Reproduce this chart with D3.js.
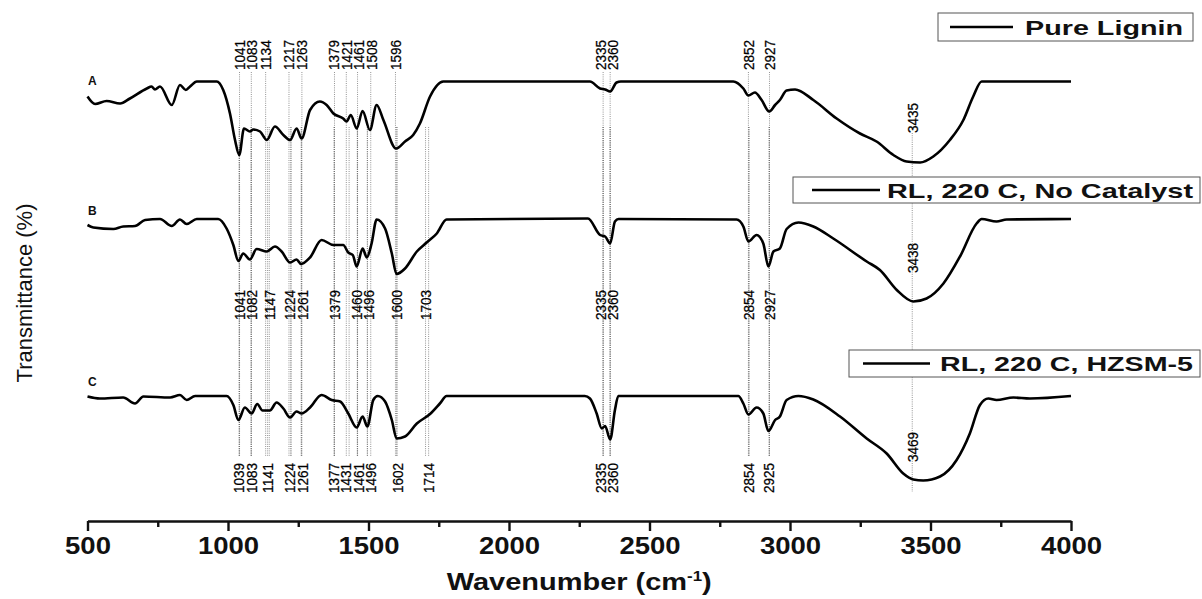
<!DOCTYPE html>
<html>
<head>
<meta charset="utf-8">
<script src="https://cdn.jsdelivr.net/npm/d3@7/dist/d3.min.js"></script>
<style>
  body { margin: 0; background: #fff; }
  svg { display: block; font-family: "Liberation Sans", Arial, sans-serif; }
</style>
</head>
<body>
<div id="chart"></div>
<script>
// Data
// ================================
var seriesNames = ["Pure Lignin", "RL, 220 C, No Catalyst", "RL, 220 C, HZSM-5"];
var seriesLetters = ["A", "B", "C"];

// [wavenumber, transmittance (stacked, arb. %)]
var specA = [[500,84.9],[527,83.4],[568,84.0],[616,83.5],[651,84.5],[711,86.5],[728,86.9],[740,86.3],[758,86.9],
  [800,83.2],[829,87.2],[850,86.2],[865,86.9],[889,87.9],[960,87.9],[983,86.2],[1007,81.5],[1025,76.2],[1040,73.2],
  [1057,78.5],[1078,77.9],[1090,78.3],[1114,77.9],[1138,76.2],[1167,78.9],[1197,77.2],[1221,76.2],[1244,78.5],
  [1262,76.5],[1292,82.2],[1327,83.9],[1351,83.2],[1375,81.5],[1410,80.5],[1422,79.9],[1437,81.2],[1458,78.5],
  [1479,82.0],[1505,78.2],[1529,83.2],[1553,80.2],[1598,74.5],[1630,75.9],[1659,77.2],[1683,79.5],[1719,84.9],
  [1766,87.9],[2288,87.9],[2324,86.5],[2342,86.3],[2360,85.9],[2383,87.7],[2398,87.9],[2798,87.9],[2834,86.5],
  [2852,85.1],[2875,85.7],[2899,84.2],[2926,81.9],[2947,83.2],[2964,84.2],[2988,86.1],[3018,86.3],[3083,84.2],
  [3166,80.5],[3249,77.5],[3308,75.9],[3368,73.2],[3415,71.9],[3463,71.7],[3510,72.9],[3569,76.2],[3617,80.2],
  [3652,84.9],[3682,87.9],[4000,87.9]];

var specB = [[500,59.2],[521,58.7],[592,58.4],[627,58.9],[669,59.0],[705,60.2],[758,60.4],[800,59.0],[829,60.3],
  [853,59.4],[889,60.4],[965,60.4],[995,58.5],[1019,55.2],[1037,52.0],[1054,53.5],[1078,52.3],[1102,54.4],
  [1138,53.9],[1167,54.9],[1191,53.9],[1221,51.7],[1244,52.3],[1260,51.4],[1292,52.7],[1333,56.2],[1375,55.2],
  [1410,55.2],[1428,53.7],[1444,53.2],[1458,50.9],[1479,54.5],[1494,52.7],[1511,55.5],[1529,60.3],[1559,58.5],
  [1583,53.5],[1600,49.4],[1630,50.5],[1672,53.9],[1707,55.7],[1743,57.5],[1778,60.3],[2281,60.5],[2324,57.2],
  [2342,56.9],[2360,55.5],[2377,59.9],[2390,60.4],[2810,60.3],[2834,58.9],[2852,55.9],[2881,57.2],[2905,55.5],
  [2923,50.9],[2941,53.9],[2964,54.5],[2988,58.4],[3030,59.7],[3083,58.9],[3154,56.5],[3273,51.9],[3320,50.2],
  [3380,46.2],[3439,43.9],[3486,44.5],[3546,47.5],[3605,52.9],[3664,59.5],[3682,60.4],[3735,59.9],[3771,60.3],
  [4000,60.4]];

var specC = [[500,24.9],[544,24.5],[627,24.7],[669,23.5],[699,24.9],[794,24.7],[829,25.2],[853,24.2],[883,25.0],
  [995,25.0],[1019,23.2],[1037,20.2],[1060,22.7],[1084,21.5],[1104,23.4],[1123,22.1],[1149,22.1],[1173,23.7],
  [1197,22.5],[1221,20.7],[1244,21.9],[1262,21.5],[1292,22.7],[1333,25.2],[1369,24.2],[1399,23.9],[1428,21.5],
  [1458,18.7],[1479,20.9],[1496,18.9],[1517,24.2],[1533,25.0],[1559,23.9],[1583,20.2],[1600,16.5],[1630,16.9],
  [1672,19.5],[1719,21.4],[1754,23.5],[1778,25.0],[2270,25.0],[2288,24.5],[2312,21.5],[2330,18.5],[2342,19.0],
  [2360,16.3],[2377,22.2],[2389,25.0],[2816,25.0],[2834,23.5],[2852,21.3],[2881,22.7],[2905,21.5],[2923,18.0],
  [2947,20.2],[2964,20.9],[2988,24.2],[3030,25.0],[3083,24.3],[3178,20.9],[3273,16.5],[3344,13.5],[3403,9.5],
  [3439,8.3],[3474,8.1],[3534,8.9],[3593,12.2],[3640,17.5],[3676,23.2],[3706,24.5],[3735,24.2],[3795,24.7],
  [3854,24.5],[4000,25.0]];

// assigned band positions
var peaksA = [1041, 1083, 1134, 1217, 1263, 1379, 1421, 1461, 1508, 1596, 2335, 2360, 2852, 2927];
var peaksB = [1041, 1082, 1147, 1224, 1261, 1379, 1460, 1496, 1600, 1703, 2335, 2360, 2854, 2927];
var peaksC = [1039, 1083, 1141, 1224, 1261, 1377, 1431, 1461, 1496, 1602, 1714, 2335, 2360, 2854, 2925];
var ohPeaks = [3435, 3438, 3469];

var xTicks = [500, 1000, 1500, 2000, 2500, 3000, 3500, 4000];
var xMinorTicks = [750, 1250, 1750, 2250, 2750, 3250, 3750];

// Set up chart
// ================================
var svgWidth = 1202;
var svgHeight = 599;

var margin = { top: 21, right: 131, bottom: 78, left: 87.5 };
var width = svgWidth - margin.left - margin.right;
var height = svgHeight - margin.top - margin.bottom;

var svg = d3.select("#chart")
  .append("svg")
  .attr("width", svgWidth)
  .attr("height", svgHeight);

var chartGroup = svg.append("g")
  .attr("transform", `translate(${margin.left}, ${margin.top})`);

var xScale = d3.scaleLinear().domain([500, 4000]).range([0, width]);
var yScale = d3.scaleLinear().domain([0, 100]).range([height, 0]);

// layout of the three stacked spectra (pixel positions in chart coords)
var rows = [
  { spec: specA, peaks: peaksA, labelBase: 49, lineTop: 51, ohBase: 112,
    letterY: 64, legend: { x: 850.5, y: -8, w: 255, h: 28, l1: 862.5, l2: 925.5, tx: 937.5, len: 158 } },
  { spec: specB, peaks: peaksB, labelBase: 299, lineTop: 106, ohBase: 252,
    letterY: 194, legend: { x: 705.5, y: 156, w: 407, h: 26, l1: 724.5, l2: 792.5, tx: 799.5, len: 306 } },
  { spec: specC, peaks: peaksC, labelBase: 472, lineTop: 106, ohBase: 441,
    letterY: 365, legend: { x: 761.5, y: 329, w: 351, h: 27, l1: 775.5, l2: 842.5, tx: 852.5, len: 253 } }
];
var lineBottom = 435;
var ohTop = 112;
var ohBottom = 471;

var labelFont = "'Liberation Sans Narrow', 'Arial Narrow', 'Liberation Sans', sans-serif";

// push crowded labels apart so the rotated numbers don't overlap
function spread(xs, gap) {
  var out = xs.slice();
  for (var it = 0; it < 60; it++) {
    for (var i = 1; i < out.length; i++) {
      var d = out[i] - out[i - 1];
      if (d < gap) {
        var s = (gap - d) / 2;
        out[i - 1] -= s;
        out[i] += s;
      }
    }
  }
  return out;
}

// x axis
// ================================
var bottomAxis = d3.axisBottom(xScale)
  .tickValues(xTicks)
  .tickFormat(d3.format("d"))
  .tickSize(10)
  .tickSizeOuter(0)
  .tickPadding(6);

var xAxisG = chartGroup.append("g")
  .attr("transform", `translate(0, ${height})`)
  .call(bottomAxis);

xAxisG.select(".domain").attr("stroke", "#111").attr("stroke-width", 2.6);
xAxisG.selectAll(".tick line").attr("stroke", "#111").attr("stroke-width", 2.4);
xAxisG.selectAll(".tick text")
  .attr("fill", "#111")
  .style("font-size", "24px")
  .style("font-weight", "bold")
  .attr("textLength", d => String(d).length * 15.3)
  .attr("lengthAdjust", "spacingAndGlyphs");

var minorAxis = d3.axisBottom(xScale)
  .tickValues(xMinorTicks)
  .tickSize(6)
  .tickSizeOuter(0)
  .tickFormat("");

var minorG = chartGroup.append("g")
  .attr("transform", `translate(0, ${height})`)
  .call(minorAxis);
minorG.select(".domain").remove();
minorG.selectAll(".tick line").attr("stroke", "#111").attr("stroke-width", 2.4);

// x axis title
var xTitle = chartGroup.append("text")
  .attr("x", width / 2)
  .attr("y", height + 69)
  .attr("text-anchor", "middle")
  .attr("fill", "#111")
  .style("font-size", "24px")
  .style("font-weight", "bold")
  .attr("textLength", 265)
  .attr("lengthAdjust", "spacingAndGlyphs");
xTitle.append("tspan").text("Wavenumber (cm");
xTitle.append("tspan").attr("dy", -9).style("font-size", "14px").text("-1");
xTitle.append("tspan").attr("dy", 9).text(")");

// y axis title
svg.append("text")
  .attr("transform", "translate(32, 293) rotate(-90)")
  .attr("text-anchor", "middle")
  .attr("fill", "#111")
  .style("font-size", "22px")
  .text("Transmittance (%)");

// guide lines and band labels
// ================================
var line = d3.line()
  .x(d => xScale(d[0]))
  .y(d => yScale(d[1]))
  .curve(d3.curveMonotoneX);

rows.forEach(function (row) {
  chartGroup.selectAll(null)
    .data(row.peaks)
    .enter()
    .append("line")
    .attr("x1", d => xScale(d))
    .attr("x2", d => xScale(d))
    .attr("y1", row.lineTop)
    .attr("y2", lineBottom)
    .attr("stroke", "#666")
    .attr("stroke-width", 0.7)
    .attr("stroke-dasharray", "1,1.2");
});

// O-H stretch guide, shared by the three spectra
var ohX = xScale(ohPeaks[0]);
chartGroup.append("line")
  .attr("x1", ohX).attr("x2", ohX)
  .attr("y1", ohTop)
  .attr("y2", ohBottom)
  .attr("stroke", "#666")
  .attr("stroke-width", 0.7)
  .attr("stroke-dasharray", "1,1.2");

rows.forEach(function (row, i) {
  var xs = spread(row.peaks.map(d => xScale(d)), 12.5);

  chartGroup.selectAll(null)
    .data(row.peaks)
    .enter()
    .append("text")
    .attr("transform", (d, j) => `translate(${xs[j] + 5.5}, ${row.labelBase}) rotate(-90)`)
    .attr("fill", "#000")
    .attr("stroke", "#000")
    .attr("stroke-width", 0.25)
    .attr("textLength", 30)
    .attr("lengthAdjust", "spacingAndGlyphs")
    .style("font-size", "15.5px")
    .style("font-family", labelFont)
    .text(d => d);

  chartGroup.append("text")
    .attr("transform", `translate(${ohX + 5.5}, ${row.ohBase}) rotate(-90)`)
    .attr("fill", "#000")
    .attr("stroke", "#000")
    .attr("stroke-width", 0.25)
    .attr("textLength", 30)
    .attr("lengthAdjust", "spacingAndGlyphs")
    .style("font-size", "15.5px")
    .style("font-family", labelFont)
    .text(ohPeaks[i]);
});

// spectra
// ================================
rows.forEach(function (row, i) {
  chartGroup.append("path")
    .datum(row.spec)
    .attr("d", line)
    .attr("fill", "none")
    .attr("stroke", "#000")
    .attr("stroke-width", 2.6)
    .attr("stroke-linejoin", "round");

  chartGroup.append("text")
    .attr("x", 0.5)
    .attr("y", row.letterY)
    .attr("fill", "#111")
    .style("font-size", "12px")
    .style("font-weight", "bold")
    .text(seriesLetters[i]);

  // legend box
  var lg = row.legend;
  var g = chartGroup.append("g");
  g.append("rect")
    .attr("x", lg.x).attr("y", lg.y)
    .attr("width", lg.w).attr("height", lg.h)
    .attr("fill", "#fff")
    .attr("stroke", "#555")
    .attr("stroke-width", 1);
  g.append("line")
    .attr("x1", lg.l1).attr("x2", lg.l2)
    .attr("y1", lg.y + lg.h / 2).attr("y2", lg.y + lg.h / 2)
    .attr("stroke", "#000")
    .attr("stroke-width", 2.6);
  g.append("text")
    .attr("x", lg.tx)
    .attr("y", lg.y + lg.h / 2 + 7.5)
    .attr("fill", "#111")
    .attr("textLength", lg.len)
    .attr("lengthAdjust", "spacingAndGlyphs")
    .style("font-size", "21px")
    .style("font-weight", "bold")
    .text(seriesNames[i]);
});
</script>
</body>
</html>
